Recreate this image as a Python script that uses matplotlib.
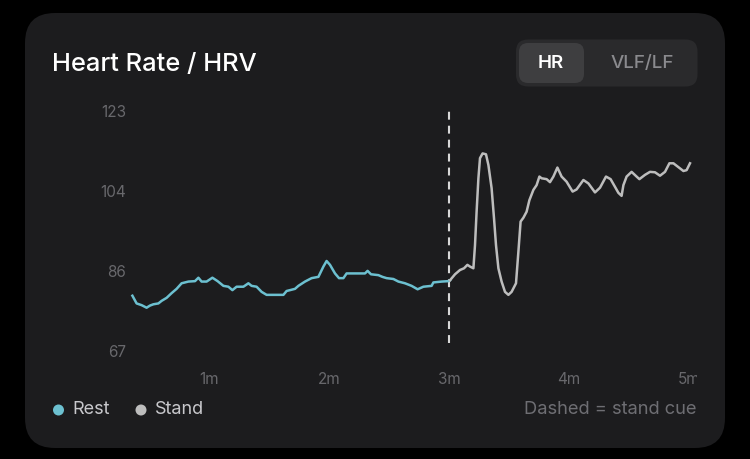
import numpy as np
import matplotlib
matplotlib.use("Agg")
import matplotlib.pyplot as plt
from matplotlib.patches import FancyBboxPatch, Circle
from matplotlib.transforms import Bbox, TransformedBbox

plt.rcParams['font.family'] = ['Inter', 'DejaVu Sans']

# heart rate samples, time in seconds, bpm
rest_t = [21.7, 23.8, 26.3, 28.8, 30.5, 32.2, 34.7, 36.3, 38.8, 41.3, 43.8, 46.3,
          49.7, 53.0, 54.7, 56.3, 58.8, 61.7, 64.3, 67.2, 69.7, 71.7, 73.8, 77.2,
          79.7, 81.3, 83.8, 86.3, 88.8, 93.0, 97.2, 98.8, 103.0, 104.7, 108.0,
          111.3, 114.7, 117.2, 118.8, 120.5, 123.0, 125.0, 127.2, 128.8, 133.0,
          138.0, 139.3, 141.0, 144.7, 146.7, 148.8, 152.2, 154.7, 158.0, 161.3,
          164.3, 167.2, 171.3, 172.2, 176.3, 179.7, 180.5]
rest_hr = [79.9, 78.1, 77.7, 77.1, 77.6, 77.9, 78.1, 78.7, 79.4, 80.5, 81.5, 82.8,
           83.2, 83.3, 84.1, 83.2, 83.2, 84.1, 83.3, 82.2, 82.0, 81.2, 82.0, 82.0,
           82.8, 82.2, 82.0, 80.8, 80.1, 80.1, 80.1, 81.0, 81.5, 82.2, 83.2,
           84.0, 84.3, 86.7, 88.0, 87.1, 85.1, 84.0, 84.0, 85.1, 85.1,
           85.1, 85.7, 84.9, 84.7, 84.3, 84.0, 83.8, 83.2, 82.8, 82.2,
           81.4, 82.0, 82.2, 83.0, 83.2, 83.3, 83.5]

stand_t = [180.5, 183.0, 185.5, 187.5, 189.2, 190.5, 192.2, 193.0, 193.8, 194.7,
           195.5, 196.8, 198.5, 199.7, 201.3, 202.5, 203.5, 204.7, 206.3, 208.0,
           209.7, 211.3, 213.5, 214.7, 215.8, 217.2, 218.8, 220.2, 222.2, 223.8,
           225.2, 226.3, 228.8, 230.5, 232.2, 234.2, 236.3, 238.8, 241.8, 243.8,
           247.2, 249.7, 253.0, 255.5, 258.5, 260.8, 263.0, 264.7, 266.3, 267.2,
           268.8, 271.3, 273.8, 275.2, 278.0, 280.5, 283.0, 285.5, 288.0, 290.2,
           292.2, 294.7, 297.2, 298.8, 300.5]
stand_hr = [83.5, 84.9, 85.9, 86.3, 87.1, 86.7, 86.3, 91.7, 99.5, 107.3,
            112.0, 113.1, 112.9, 110.4, 105.0, 98.0, 91.7, 86.3, 83.2, 80.8,
            80.1, 80.8, 82.8, 90.2, 97.2, 98.1, 99.5, 102.2, 104.6, 105.7,
            107.7, 107.3, 107.1, 106.4, 107.7, 109.8, 107.7, 106.5, 104.2, 104.7,
            106.9, 106.1, 104.0, 105.1, 107.7, 107.1, 105.3, 103.9, 103.2, 105.7,
            107.7, 108.8, 107.7, 107.1, 108.1, 108.8, 108.7, 107.9, 108.8, 110.8,
            110.8, 109.9, 109.0, 109.2, 110.8]

stand_cue = 180
y_min, y_max = 67, 123
x_ticks = [60, 120, 180, 240, 300]
x_labels = ['1m', '2m', '3m', '4m', '5m']

rest_color = '#6cc0d0'
stand_color = '#bdbdbd'
card = '#1c1c1e'

fig = plt.figure(figsize=(7.5, 4.59), dpi=100, facecolor='black')

# background layer in pixel units
bg = fig.add_axes([0, 0, 1, 1])
bg.set_xlim(0, 750)
bg.set_ylim(459, 0)
bg.axis('off')
bg.add_patch(FancyBboxPatch((25, 13), 700, 435, boxstyle="round,pad=0,rounding_size=30",
                            fc=card, ec='none'))
bg.text(52, 64, 'Heart Rate / HRV', color='white', fontsize=18.4, fontweight='medium',
        va='center', ha='left')

# toggle
bg.add_patch(FancyBboxPatch((516, 39.5), 181.5, 47, boxstyle="round,pad=0,rounding_size=12",
                            fc='#2a2a2c', ec='none'))
bg.add_patch(FancyBboxPatch((519, 43), 65, 40, boxstyle="round,pad=0,rounding_size=9",
                            fc='#3e3e40', ec='none'))
bg.text(551, 64, 'HR', color='white', fontsize=13.5, fontweight='semibold', ha='center', va='center')
bg.text(642, 64, 'VLF/LF', color='#8a8a8e', fontsize=13.5, fontweight='medium', ha='center', va='center')

# legend
bg.add_patch(Circle((58.5, 410), 5.5, fc=rest_color, ec='none'))
bg.text(72, 410, 'Rest', color='#c8c8cc', fontsize=13, ha='left', va='center')
bg.add_patch(Circle((141, 410), 5.5, fc=stand_color, ec='none'))
bg.text(155, 410, 'Stand', color='#c8c8cc', fontsize=13, ha='left', va='center')
bg.text(697, 410, 'Dashed = stand cue', color='#6e6e73', fontsize=13.2, ha='right', va='center')

# chart
ax = fig.add_axes([130 / 750, (459 - 351) / 459, 567 / 750, 240 / 459])
ax.set_facecolor('none')
ax.plot(rest_t, rest_hr, color=rest_color, lw=1.8, solid_joinstyle='round', zorder=3)
ax.plot(stand_t, stand_hr, color=stand_color, lw=1.8, solid_joinstyle='round', zorder=3)
ax.axvline(stand_cue, ymin=0.035, ymax=1.0, color='#d8d8d8', lw=1.5, dashes=(3.8, 2.9), zorder=2)

ax.set_xlim(20.5, 304)
ax.set_ylim(y_min, y_max)
y_ticks = np.linspace(y_min, y_max, 4)
ax.set_yticks(y_ticks, [f'{v:.0f}' for v in y_ticks])
ax.set_xticks(x_ticks, x_labels)
ax.tick_params(length=0, labelsize=11, labelcolor='#68686c')
ax.tick_params(axis='y', pad=3)
ax.tick_params(axis='x', pad=15)
for s in ax.spines.values():
    s.set_visible(False)

clip = TransformedBbox(Bbox([[-1, -1], [1, 1]]), ax.transAxes)
for lbl in ax.get_xticklabels():
    lbl.set_clip_box(clip)
    lbl.set_clip_on(True)

fig.savefig('out.png', dpi=100, facecolor='black')
